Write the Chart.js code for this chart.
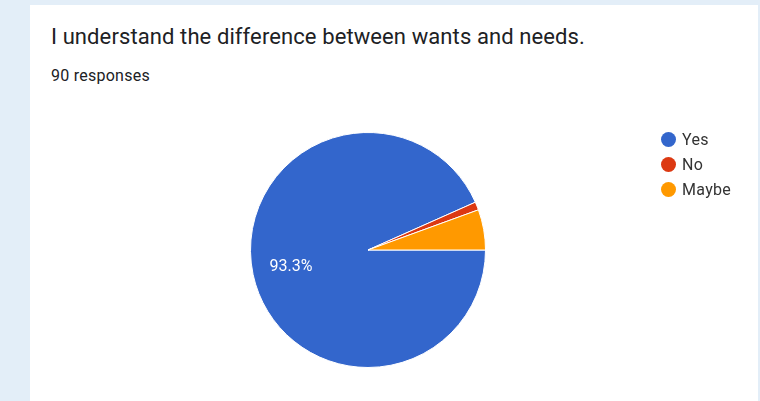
<!DOCTYPE html>
<html>
<head>
<meta charset="utf-8">
<script src="https://cdn.jsdelivr.net/npm/chart.js@4/dist/chart.umd.min.js"></script>
<style>
  body{margin:0;background:#e3eef8;width:760px;height:401px;overflow:hidden;font-family:Roboto,Arial,sans-serif;}
  #card{position:absolute;left:30px;top:5px;width:728px;height:396px;background:#fff;}
  #title{position:absolute;left:21px;top:19px;font-size:22px;letter-spacing:0.1px;color:#202124;white-space:nowrap;}
  #sub{position:absolute;left:21px;top:61px;font-size:16px;letter-spacing:0.25px;color:#202124;}
  #wrap{position:absolute;left:0;top:95px;width:728px;height:301px;}
  #legend{position:absolute;left:631px;top:125px;font-size:16px;letter-spacing:0.3px;color:#333;}
  #legend div{height:25px;line-height:19px;white-space:nowrap;}
  #legend span{display:inline-block;width:15px;height:15px;border-radius:50%;vertical-align:-2px;margin-right:6px;}
</style>
</head>
<body>
<div id="card">
  <div id="title">I understand the difference between wants and needs.</div>
  <div id="sub">90 responses</div>
  <div id="wrap"><canvas id="chart-area"></canvas></div>
  <div id="legend"></div>
</div>
<script>
var labels = ["Yes", "No", "Maybe"];
var counts = [84, 1, 5];
var colors = ["#3366cc", "#dc3912", "#ff9900"];

var total = counts.reduce(function(a, b){ return a + b; }, 0);

// legend like the google forms one
var lg = document.getElementById("legend");
labels.forEach(function(l, i){
  var d = document.createElement("div");
  d.innerHTML = '<span style="background:' + colors[i] + '"></span>' + l;
  lg.appendChild(d);
});

// percent labels inside big slices
var pctLabels = {
  id: "pctLabels",
  afterDatasetsDraw: function(chart){
    var ctx = chart.ctx;
    var meta = chart.getDatasetMeta(0);
    ctx.save();
    ctx.fillStyle = "#fff";
    ctx.font = "16px Roboto, Arial, sans-serif";
    ctx.textAlign = "center";
    ctx.textBaseline = "middle";
    meta.data.forEach(function(arc, i){
      var v = counts[i] / total * 100;
      if (v < 10) return;
      var mid = (arc.startAngle + arc.endAngle) / 2;
      var r = arc.outerRadius * 0.67;
      ctx.fillText(v.toFixed(1) + "%", arc.x + Math.cos(mid) * r, arc.y + Math.sin(mid) * r + 1);
    });
    ctx.restore();
  }
};

var config = {
  type: "pie",
  data: {
    labels: labels,
    datasets: [{
      data: counts,
      backgroundColor: colors,
      borderColor: "#fff",
      borderWidth: 1
    }]
  },
  options: {
    responsive: true,
    maintainAspectRatio: false,
    animation: false,
    rotation: 90,
    layout: { padding: { top: 32, bottom: 33, left: 220, right: 272 } },
    plugins: { legend: { display: false }, tooltip: { enabled: false } }
  },
  plugins: [pctLabels]
};

new Chart(document.getElementById("chart-area").getContext("2d"), config);
</script>
</body>
</html>
